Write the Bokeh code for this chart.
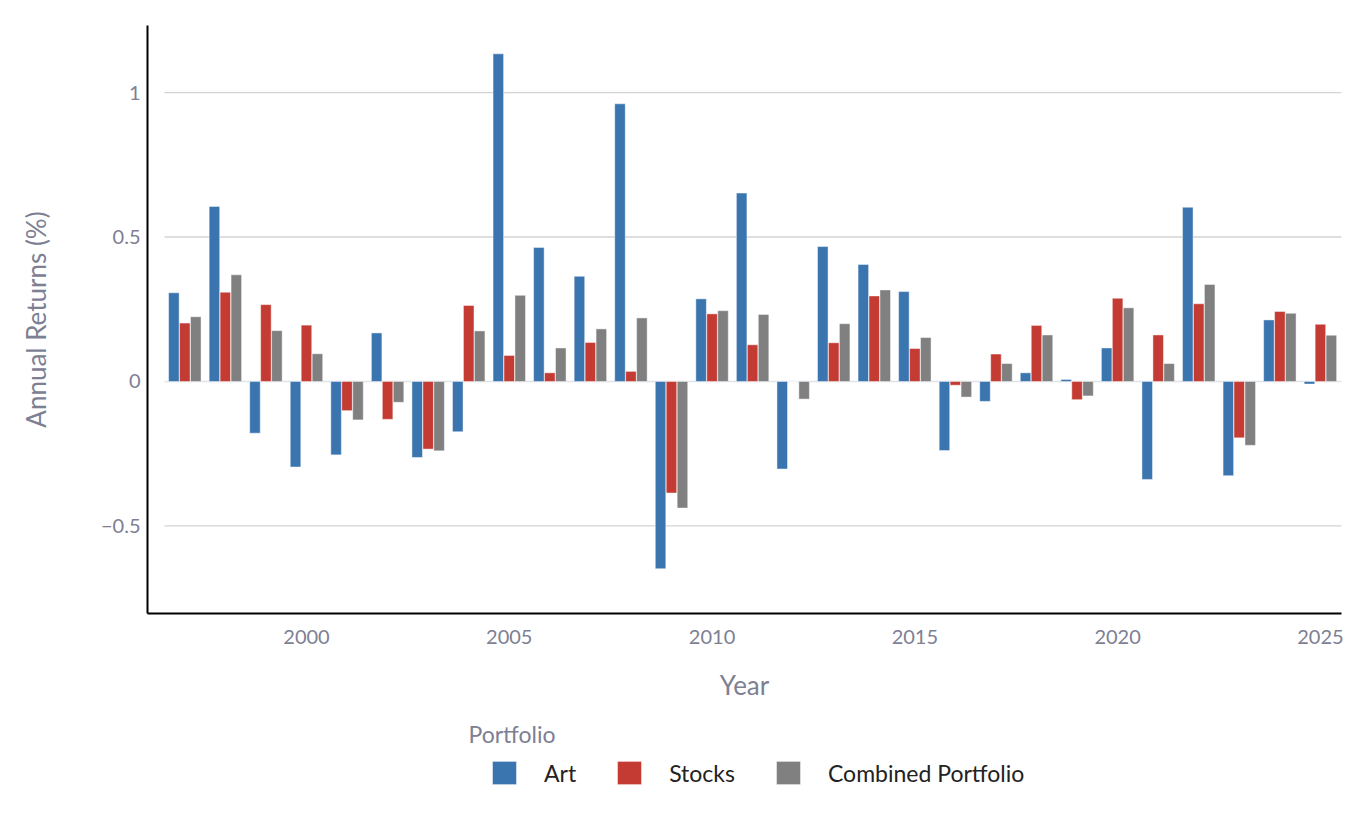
from bokeh.plotting import figure
from bokeh.layouts import column
from bokeh.models import (Range1d, FixedTicker, CustomJSTickFormatter, Legend,
                          LegendItem, Label, ColumnDataSource)
from bokeh.embed import file_html
from bokeh.resources import INLINE

# ---- data ----
years = list(range(1997, 2026))
art = [0.307, 0.606, -0.179, -0.296, -0.254, 0.168, -0.263, -0.174, 1.134, 0.464,
       0.364, 0.961, -0.648, 0.286, 0.652, -0.303, 0.467, 0.405, 0.311, -0.239,
       -0.069, 0.030, 0.007, 0.116, -0.339, 0.603, -0.326, 0.213, -0.009]
stocks = [0.202, 0.309, 0.266, 0.195, -0.101, -0.131, -0.234, 0.263, 0.090, 0.030,
          0.135, 0.035, -0.386, 0.234, 0.127, 0.000, 0.134, 0.296, 0.114, -0.013,
          0.095, 0.194, -0.063, 0.288, 0.161, 0.269, -0.195, 0.242, 0.198]
combined = [0.224, 0.369, 0.176, 0.096, -0.133, -0.072, -0.240, 0.175, 0.298, 0.116,
            0.182, 0.220, -0.438, 0.245, 0.232, -0.061, 0.200, 0.317, 0.152, -0.054,
            0.062, 0.161, -0.050, 0.255, 0.062, 0.336, -0.221, 0.236, 0.160]
series_names = ["Art", "Stocks", "Combined Portfolio"]
series_colors = ["#3b75af", "#c43b33", "#808080"]
x_ticks = [2000, 2005, 2010, 2015, 2020, 2025]
y_ticks = [-0.5, 0, 0.5, 1]

FONT = "Lato"
GREY = "#7d8093"

# ---------------- main chart ----------------
p = figure(width=1352, height=708, output_backend="svg", toolbar_location=None,
           x_range=Range1d(1996.08, 2025.52), y_range=Range1d(-0.803, 1.232),
           min_border_left=147, min_border_right=11, min_border_top=25,
           min_border_bottom=95)
p.outline_line_color = None
p.xgrid.visible = False
p.ygrid.visible = False

# grid lines (behind bars)
grid_vals = [v for v in y_ticks if v != 0]
p.segment(x0=[1996.5] * len(grid_vals), x1=[2025.52] * len(grid_vals),
          y0=grid_vals, y1=grid_vals, line_color="#d3d3d3", line_width=1.3)
p.segment(x0=[1996.5], x1=[2025.52], y0=[0], y1=[0], line_color="#dfe3ea", line_width=1.3)

offsets = [-0.27, 0.0, 0.27]
for vals, col, off in zip([art, stocks, combined], series_colors, offsets):
    src = ColumnDataSource(dict(x=[y + off for y in years], top=vals))
    p.vbar(x="x", top="top", bottom=0, width=0.26, source=src,
           fill_color=col, line_color="white", line_alpha=0.45, line_width=1)

p.xaxis.ticker = FixedTicker(ticks=x_ticks)
p.yaxis.ticker = FixedTicker(ticks=y_ticks)
p.yaxis.formatter = CustomJSTickFormatter(code="return tick < 0 ? '\u2212' + (-tick) : '' + tick;")
for ax in (p.xaxis[0], p.yaxis[0]):
    ax.axis_line_color = "black"
    ax.axis_line_width = 2
    ax.major_tick_line_color = None
    ax.minor_tick_line_color = None
    ax.major_tick_out = 0
    ax.major_tick_in = 0
    ax.major_label_text_font = FONT
    ax.major_label_text_font_size = "20px"
    ax.major_label_text_color = GREY
    ax.axis_label_text_font = FONT
    ax.axis_label_text_font_size = "26px"
    ax.axis_label_text_font_style = "normal"
    ax.axis_label_text_color = GREY
p.xaxis.axis_label = "Year"
p.yaxis.axis_label = "Annual Returns (%)"
p.xaxis.major_label_standoff = 16
p.xaxis.axis_label_standoff = 22
p.yaxis.major_label_standoff = 7
p.yaxis.axis_label_standoff = 46

# ---------------- legend strip (frame aligned with the chart's frame) ----------------
leg_h = 820 - 708
q = figure(width=1352, height=leg_h, output_backend="svg", toolbar_location=None,
           x_range=Range1d(147, 1341), y_range=Range1d(0, leg_h),
           min_border_left=147, min_border_right=11, min_border_top=0, min_border_bottom=0)
q.axis.visible = False
q.grid.visible = False
q.outline_line_color = None

items = []
for name, vals, col in zip(series_names, [art, stocks, combined], series_colors):
    r = q.vbar(x=years, top=vals, width=0.26, fill_color=col,
               line_color="white", line_alpha=0.45, visible=False)
    items.append(LegendItem(label=name, renderers=[r]))

q.add_layout(Label(x=468, y=820 - 733, text="Portfolio", text_font=FONT,
                   text_font_size="23px", text_color=GREY, text_baseline="middle",
                   text_align="left"))

legend = Legend(items=items, orientation="horizontal", location=(489 - 147, 820 - 787),
                label_text_font=FONT, label_text_font_size="23px", label_text_color="#222222",
                glyph_width=30, glyph_height=29, label_standoff=25, spacing=38,
                padding=0, margin=0, border_line_alpha=0, background_fill_alpha=0)
q.add_layout(legend)

layout = column(p, q, spacing=0)
open("out.html", "w").write(file_html(layout, INLINE))
